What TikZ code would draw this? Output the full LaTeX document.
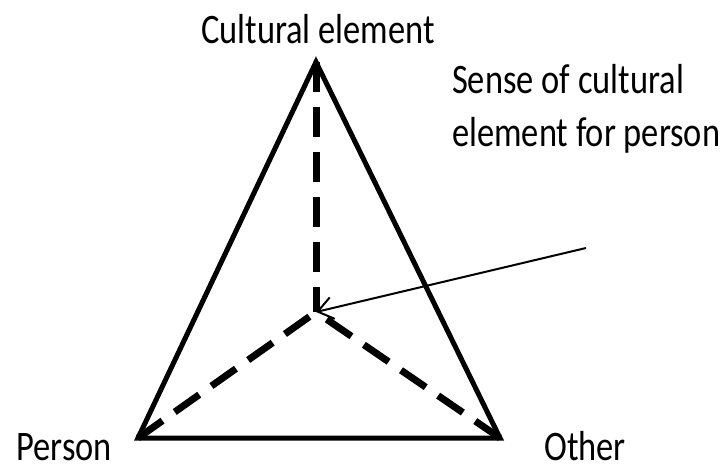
\documentclass[tikz,border=0pt]{standalone}
\usepackage{fontspec}
\setmainfont{Carlito}
\usetikzlibrary{arrows.meta}
\begin{document}
\begin{tikzpicture}[
      x=1pt, y=-1pt,
      font=\fontsize{42}{53}\selectfont,
      beschriftung/.style={transform shape, xscale=0.82, inner sep=0pt},
      seite/.style={line width=5pt, line join=miter},
      strich/.style={line width=7pt, dash pattern=on 30pt off 15pt},
      pfeil/.style={line width=2pt, -{Straight Barb[length=15pt, width=22pt, line width=2pt]}}
    ]
      \useasboundingbox (0,0) rectangle (723,466);
      \coordinate (kultur) at (316,62);
      \coordinate (person) at (138,438);
      \coordinate (anderer) at (500,438);
      \coordinate (mitte) at (316,312);
      \coordinate (start) at (586,248);
      \draw[seite] (kultur) -- (person) -- (anderer) -- cycle;
      \draw[strich] (kultur) -- (mitte);
      \draw[strich] (person) -- (mitte);
      \draw[strich] (anderer) -- (mitte);
      \draw[pfeil] (start) -- (mitte);
      \node[beschriftung, anchor=base] (tkultur) at (318,43) {Cultural element};
      \node[beschriftung, anchor=base west, align=left] (tsinn) at (452,146) {Sense of cultural\\element for person};
      \node[beschriftung, anchor=base] (tperson) at (64,460) {Person};
      \node[beschriftung, anchor=base] (tanderer) at (585,460) {Other};
    \end{tikzpicture}
\end{document}
